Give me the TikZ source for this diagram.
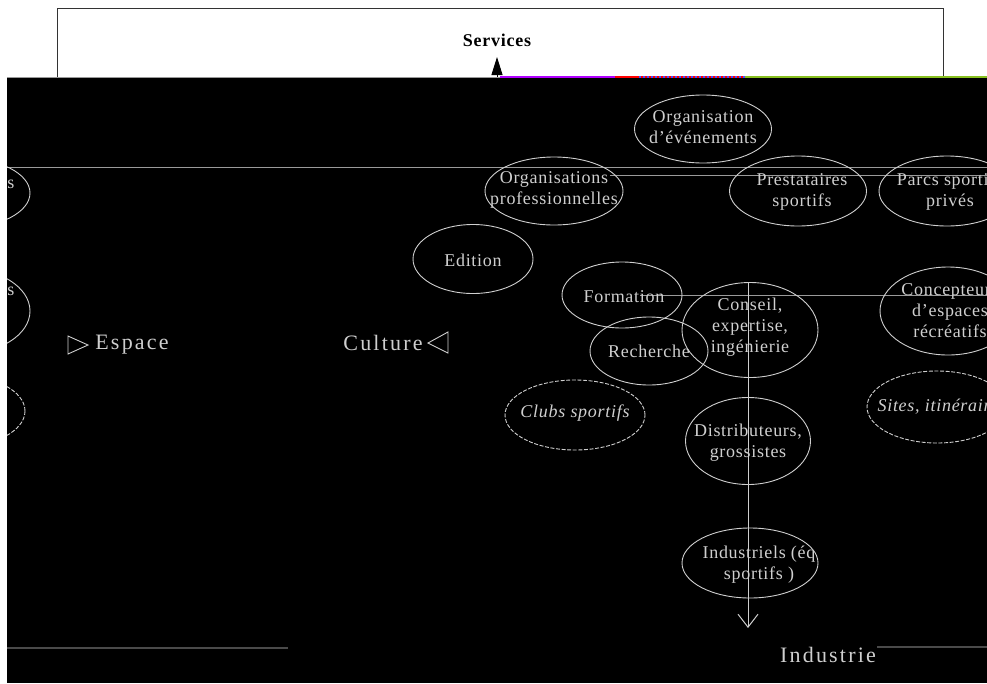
\documentclass[tikz,border=0pt]{standalone}
\usepackage{fontspec}
\setmainfont[LetterSpace=4]{Liberation Serif}
\newfontfamily\widefont[LetterSpace=10]{Liberation Serif}
\usetikzlibrary{shapes.geometric,arrows.meta}
\definecolor{fg}{HTML}{CFCFCF}
\definecolor{ln}{HTML}{9A9A9A}
\definecolor{dim}{HTML}{4A4A4A}
\definecolor{mag}{HTML}{B000FF}
\definecolor{grn}{HTML}{88C020}
\begin{document}
\begin{tikzpicture}[x=1pt,y=-1pt,
  oval/.style={ellipse,draw=fg,line width=0.9pt,inner sep=0pt},
  dashoval/.style={oval,dash pattern=on 4pt off 1.6pt},
  lbl/.style={text=fg,align=center,inner sep=0pt,font=\fontsize{18}{21}\selectfont},
  axis/.style={text=fg,inner sep=0pt,font=\widefont\fontsize{22}{24}\selectfont},
  gline/.style={draw=ln,line width=1pt},
  dline/.style={draw=dim,line width=1.4pt},
  tri/.style={draw=fg,line width=0.9pt}]
\useasboundingbox (0,0) rectangle (987,683);
\fill[white] (0,0) rectangle (987,683);
% Services box
\node[draw=black!80,line width=0.8pt,minimum width=886,minimum height=69,anchor=north west,inner sep=0pt] (box) at (57,8) {};
\node[font=\bfseries\fontsize{18}{21}\selectfont,inner sep=0pt] (services) at (497,40) {Services};
\coordinate (svtip) at (497,57);
\coordinate (svbase) at (497,77);
\draw[line width=0.9pt,-{Triangle[length=18pt,width=11pt]}] (svbase) -- (svtip);
% black area
\fill[black] (7,77) rectangle (987,683);
\draw[ln,line width=1pt] (7,77) -- (500,77);
\draw[mag,line width=1.5pt] (500,77) -- (615,77);
\draw[red,line width=1.5pt] (615,77) -- (637,77);
\draw[red,line width=1.5pt,dash pattern=on 2pt off 2pt] (637,77) -- (745,77);
\draw[blue!70,line width=1.5pt,dash pattern=on 2pt off 2pt,dash phase=2pt] (637,77) -- (745,77);
\draw[grn,line width=1.5pt] (745,77) -- (987,77);
\begin{scope}
\clip (7,78) rectangle (987,683);
% horizontal guide lines
\coordinate (h1a) at (7,167);   \coordinate (h1b) at (987,167);
\coordinate (h2a) at (610,175); \coordinate (h2b) at (987,175);
\coordinate (h3a) at (640,295); \coordinate (h3b) at (987,295);
\coordinate (h4a) at (7,648);   \coordinate (h4b) at (288,648);
\coordinate (h5a) at (877,647); \coordinate (h5b) at (987,647);
\draw[gline] (h1a) -- (h1b);
\draw[gline] (h2a) -- (h2b);
\draw[gline] (h3a) -- (h3b);
\draw[dline] (h4a) -- (h4b);
\draw[dline] (h5a) -- (h5b);
% left partial ellipses
\node[oval,minimum width=136,minimum height=70] (l1) at (-38,193) {};
\node[oval,minimum width=136,minimum height=86] (l2) at (-38,311) {};
\node[dashoval,minimum width=136,minimum height=72] (l3) at (-43,411) {};
\node[lbl] (l1t) at (11,184) {s};
\node[lbl] (l2t) at (11,291) {s};
% ellipses
\node[oval,minimum width=137,minimum height=68] (orgev) at (703,129) {};
\node[lbl] (orgevt) at (703,127) {Organisation\\d’événements};
\node[oval,minimum width=138,minimum height=68] (orgpro) at (554,191) {};
\node[lbl] (orgprot) at (554,190) {Organisations\\professionnelles};
\node[oval,minimum width=137,minimum height=70] (prest) at (798,191) {};
\node[lbl] (prestt) at (802,192) {Prestataires\\sportifs};
\node[oval,minimum width=136,minimum height=70] (parcs) at (947,191) {};
\node[lbl] (parcst) at (950,192) {Parcs sportifs\\privés};
\node[oval,minimum width=120,minimum height=69] (edit) at (473,259) {};
\node[lbl] (editt) at (473,260) {Edition};
\node[oval,minimum width=120,minimum height=66] (form) at (622,295) {};
\node[lbl] (formt) at (624,297) {Formation};
\node[oval,minimum width=118,minimum height=68] (rech) at (649,351) {};
\node[lbl] (recht) at (649,351) {Recherche};
\node[oval,minimum width=136,minimum height=95] (cons) at (750,330) {};
\node[lbl] (const) at (750,327) {Conseil,\\expertise,\\ingénierie};
\node[oval,minimum width=136,minimum height=88] (conc) at (948,311) {};
\node[lbl] (conct) at (950,311) {Concepteurs\\d’espaces\\récréatifs};
\node[dashoval,minimum width=140,minimum height=70] (clubs) at (575,415) {};
\node[lbl,font=\itshape\fontsize{18}{21}\selectfont] (clubst) at (575,413) {Clubs sportifs};
\node[dashoval,minimum width=140,minimum height=72] (sites) at (937,407) {};
\node[lbl,font=\itshape\fontsize{18}{21}\selectfont] (sitest) at (942,407) {Sites, itinéraires};
\node[oval,minimum width=125,minimum height=87] (distr) at (748,441) {};
\node[lbl] (distrt) at (748,443) {Distributeurs,\\grossistes};
\node[oval,minimum width=136,minimum height=70] (indus) at (750,563) {};
\begin{scope}
\clip (indus.center) ellipse (68 and 35);
\node[lbl] (indust) at (759,565) {Industriels (éq\\sportifs )};
\end{scope}
% vertical axis
\coordinate (vtop) at (748,283);
\coordinate (vtip) at (748,628);
\draw[fg,line width=1pt,-{Straight Barb[length=13pt,width=20pt,line width=1pt]}] (vtop) -- (vtip);
\node[axis] (industrie) at (828,655) {Industrie};
% Espace / Culture
\node[axis] (espace) at (132,345) {Espace};
\draw[tri] (68,336) -- (88,345) -- (68,354) -- cycle;
\node[axis] (culture) at (383,343) {Culture};
\draw[tri] (448,332) -- (428,343) -- (448,353) -- cycle;
\end{scope}
\end{tikzpicture}
\end{document}
